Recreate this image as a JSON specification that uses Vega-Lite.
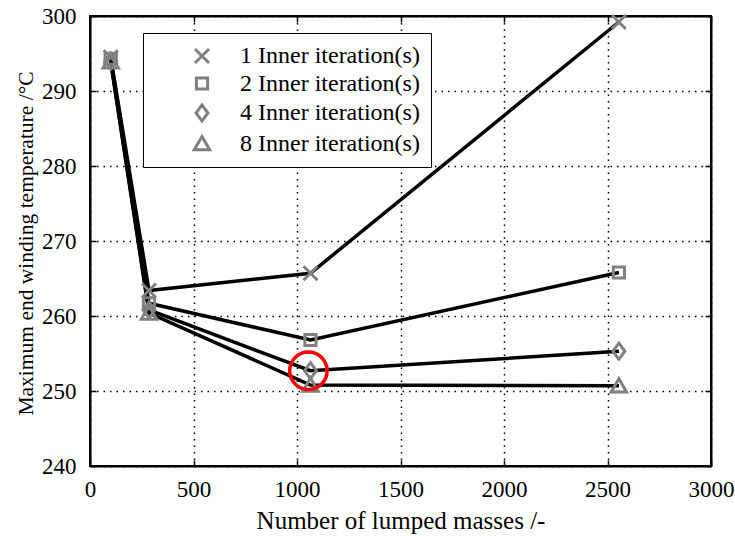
{
  "$schema": "https://vega.github.io/schema/vega-lite/v6.json",
  "width": 621,
  "height": 450,
  "autosize": "none",
  "padding": {"left": 90, "top": 16, "right": 24, "bottom": 70},
  "background": "white",
  "config": {
    "font": "Liberation Serif",
    "view": {"stroke": "black", "strokeWidth": 2},
    "axis": {
      "labelFont": "Liberation Serif",
      "labelFontSize": 23,
      "labelColor": "black",
      "labelFlush": false,
      "labelOverlap": false,
      "titleFont": "Liberation Serif",
      "titleFontWeight": "normal",
      "titleColor": "black",
      "domainColor": "black",
      "domainWidth": 2,
      "tickColor": "black",
      "tickWidth": 1.5,
      "gridColor": "black",
      "gridOpacity": 1,
      "gridDash": [1.5, 5],
      "gridWidth": 1.5
    },
    "legend": {
      "orient": "none",
      "legendX": 53,
      "legendY": 17,
      "padding": 11,
      "strokeColor": "black",
      "fillColor": "white",
      "labelFont": "Liberation Serif",
      "labelFontSize": 24,
      "labelColor": "black",
      "labelLimit": 400,
      "rowPadding": 2.5,
      "symbolOffset": 36,
      "labelOffset": 26,
      "symbolStrokeColor": "#808080",
      "symbolFillColor": "transparent",
      "symbolStrokeWidth": 3,
      "symbolSize": 196
    }
  },
  "data": {
    "values": [
      {"n": 100, "T": 294.5, "it": "1 Inner iteration(s)"},
      {"n": 285, "T": 263.4, "it": "1 Inner iteration(s)"},
      {"n": 1065, "T": 265.7, "it": "1 Inner iteration(s)"},
      {"n": 2555, "T": 299.2, "it": "1 Inner iteration(s)"},
      {"n": 100, "T": 294.3, "it": "2 Inner iteration(s)"},
      {"n": 285, "T": 261.7, "it": "2 Inner iteration(s)"},
      {"n": 1065, "T": 256.8, "it": "2 Inner iteration(s)"},
      {"n": 2555, "T": 265.8, "it": "2 Inner iteration(s)"},
      {"n": 100, "T": 294.0, "it": "4 Inner iteration(s)"},
      {"n": 285, "T": 260.8, "it": "4 Inner iteration(s)"},
      {"n": 1065, "T": 252.7, "it": "4 Inner iteration(s)"},
      {"n": 2555, "T": 255.3, "it": "4 Inner iteration(s)"},
      {"n": 100, "T": 293.9, "it": "8 Inner iteration(s)"},
      {"n": 285, "T": 260.4, "it": "8 Inner iteration(s)"},
      {"n": 1065, "T": 250.8, "it": "8 Inner iteration(s)"},
      {"n": 2555, "T": 250.7, "it": "8 Inner iteration(s)"}
    ]
  },
  "layer": [
    {
      "mark": {"type": "line", "color": "black", "strokeWidth": 3.5},
      "encoding": {
        "x": {
          "field": "n", "type": "quantitative",
          "scale": {"domain": [0, 3000], "nice": false},
          "axis": {"orient": "bottom", "title": "Number of lumped masses /-", "format": "d", "titleFontSize": 25, "values": [0, 500, 1000, 1500, 2000, 2500, 3000], "tickSize": -6, "labelPadding": 18, "titlePadding": 7, "grid": true}
        },
        "y": {
          "field": "T", "type": "quantitative",
          "scale": {"domain": [240, 300], "nice": false, "zero": false},
          "axis": {"orient": "left", "title": "Maximum end winding temperature /°C", "format": "d", "titleFontSize": 21.5, "titleX": -58, "titleY": 227, "titleBaseline": "alphabetic", "titleAngle": -90, "titleAlign": "center", "values": [240, 250, 260, 270, 280, 290, 300], "tickSize": -6, "labelPadding": 20, "grid": true}
        },
        "detail": {"field": "it"}
      }
    },
    {
      "mark": {"type": "point", "filled": false, "stroke": "#808080", "strokeWidth": 3, "size": 196, "opacity": 1},
      "encoding": {
        "x": {"field": "n", "type": "quantitative", "axis": null},
        "y": {"field": "T", "type": "quantitative", "axis": null},
        "shape": {
          "field": "it", "type": "nominal",
          "scale": {"range": ["M-1,-1L1,1M-1,1L1,-1", "M-0.8,-0.8H0.8V0.8H-0.8Z", "M0,-1.15L0.85,0L0,1.15L-0.85,0Z", "M0,-1L1.1,0.9H-1.1Z"]},
          "legend": {"title": null}
        }
      }
    },
    {
      "data": {"values": [{"n": 1055, "T": 252.7}]},
      "mark": {"type": "point", "shape": "circle", "filled": false, "stroke": "red", "strokeWidth": 3.5, "size": 1400, "opacity": 1},
      "encoding": {
        "x": {"field": "n", "type": "quantitative", "axis": {"orient": "top", "labels": false, "title": null, "grid": false, "values": [0, 500, 1000, 1500, 2000, 2500, 3000], "tickSize": -6}},
        "y": {"field": "T", "type": "quantitative", "axis": {"orient": "right", "labels": false, "title": null, "grid": false, "values": [240, 250, 260, 270, 280, 290, 300], "tickSize": -6}}
      }
    }
  ],
  "resolve": {"axis": {"x": "independent", "y": "independent"}}
}
